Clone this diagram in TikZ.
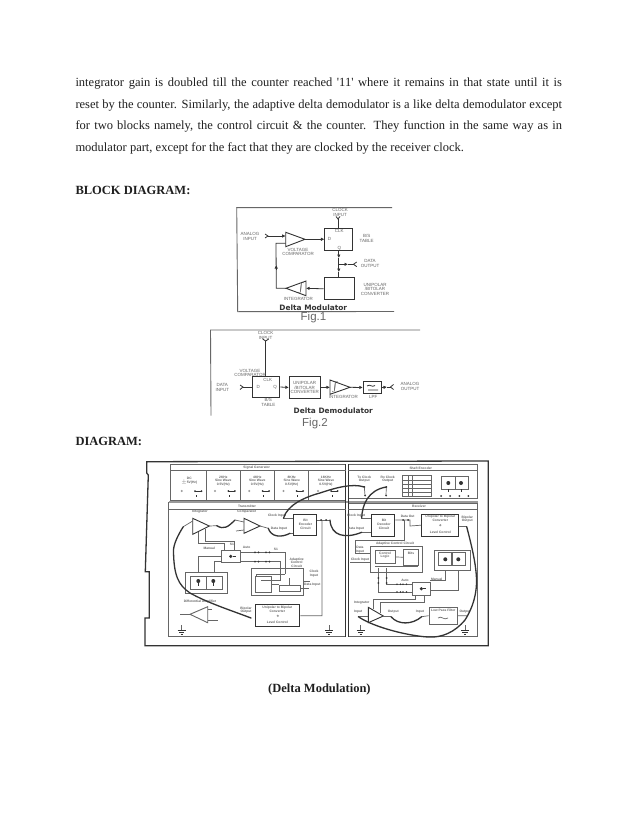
\documentclass[tikz,border=0pt]{standalone}
\usepackage{fontspec}
\setmainfont{Liberation Serif}
\newfontfamily\lsans{Liberation Sans}
\newfontfamily\dsans{DejaVu Sans}
\usetikzlibrary{arrows.meta}
\definecolor{ink}{gray}{0.2}
\definecolor{mid}{gray}{0.4}
\definecolor{soft}{gray}{0.6}
\tikzset{
 x=1pt,y=-1pt,
 para/.style={anchor=base west,inner sep=0,text=black!88,font=\fontsize{12.5}{14}\selectfont},
 head/.style={anchor=base west,inner sep=0,text=black!88,font=\fontsize{12.5}{14}\selectfont\bfseries},
 tiny/.style={inner sep=0,align=center,text=mid,font=\lsans\fontsize{4.5}{4.7}\selectfont},
 micro/.style={inner sep=0,align=center,text=mid,font=\lsans\bfseries\fontsize{3.3}{3.7}\selectfont},
 capt/.style={inner sep=0,text=ink,font=\dsans\bfseries\fontsize{7.4}{8}\selectfont},
 figlab/.style={inner sep=0,text=mid,font=\lsans\fontsize{11.5}{12}\selectfont},
 wire/.style={draw=ink,line width=.8pt},
 fwire/.style={draw=mid,line width=.7pt},
 arr/.style={draw=ink,line width=.8pt,-{Latex[length=3.5pt,width=3.5pt]}},
 bx/.style={draw=ink,line width=1pt,fill=white,inner sep=0,align=center},
 fb/.style={draw=mid,line width=.8pt,fill=white,inner sep=0,align=center},
 tri/.style={fill=white,draw=ink,line width=.9pt},
 panel/.style={draw=mid,line width=.9pt},
 jump/.style={draw=ink,line width=1.3pt,line cap=round},
 lamp/.style={fill=ink,circle,inner sep=0,minimum size=4pt},
}
\begin{document}
\begin{tikzpicture}
\useasboundingbox (0,0) rectangle (638,826);
\fill[white] (0,0) rectangle (638,826);
% page text
\node[para] (l1) at (75.3,87) {\makebox[486.5pt][s]{integrator gain is doubled till the counter reached \textquotesingle 11\textquotesingle\ where it remains in that state until it is}};
\node[para] (l2) at (75.3,108.5) {\makebox[486.5pt][s]{reset by the counter. Similarly, the adaptive delta demodulator is a like delta demodulator except}};
\node[para] (l3) at (75.3,130) {\makebox[486.5pt][s]{for two blocks namely, the control circuit \& the counter. They function in the same way as in}};
\node[para] (l4) at (75.3,151.5) {modulator part, except for the fact that they are clocked by the receiver clock.};
\node[head] (h1) at (75.3,194.5) {BLOCK DIAGRAM:};
\node[head] (h2) at (75.3,445) {DIAGRAM:};
\node[head] (h3) at (268,692) {(Delta Modulation)};
% ---------- Fig 1
\draw[draw=mid,line width=.9pt] (392,207.7) -- (236.7,207.7) -- (237.7,311.7) -- (394,311.5);
\node[tiny] (clk1) at (340,212.7) {CLOCK\\INPUT};
\node[tiny] (ai1) at (250,236.7) {ANALOG\\INPUT};
\node[bx,minimum width=27.7pt,minimum height=22.4pt] (ff1) at (338.8,239.5) {};
\node[tiny] (ff1c) at (339.3,231) {CLK};
\node[tiny] (ff1d) at (329.5,239.3) {D};
\node[tiny] (ff1q) at (339.3,248) {Q};
\node[tiny] (bs1) at (366.7,238.3) {B/S\\TABLE};
\node[tiny] (vc1) at (298,252) {VOLTAGE\\COMPARATOR};
\draw[tri] (285.7,232.3) -- (305,239.3) -- (285.7,246.7) -- cycle;
\coordinate (cmpin) at (285.7,236); \coordinate (cmpb) at (285.7,243.3); \coordinate (cmpo) at (305,239.3);
\coordinate (ai1f) at (268,236);
\draw[arr] (ai1f) -- (cmpin);
\draw[wire] (265,234) -- (ai1f) -- (265,238);
\draw[arr] (cmpo) -- (ff1.west |- cmpo);
\coordinate (clk1f) at (338,219);
\draw[wire] (clk1f) -- (clk1f |- ff1.north);
\draw[wire] (336,216.5) -- (clk1f) -- (340,216.5);
\node[bx,minimum width=30.3pt,minimum height=22.3pt] (conv1) at (339.2,288.8) {};
\node[tiny] (un1) at (375,289.3) {UNIPOLAR\\/BITOLAR\\CONVERTER};
\coordinate (j1) at (338.8,264.3);
\draw[arr] (ff1.south) -- (338.8,258);
\draw[wire] (338.8,258) -- (j1);
\draw[arr] (j1) -- (338.8,272);
\draw[wire] (338.8,272) -- (conv1.north -| j1);
\coordinate (do1) at (353.5,264.3);
\draw[arr] (j1) -- (348,264.3);
\draw[wire] (348,264.3) -- (do1);
\draw[wire] (356.7,262) -- (do1) -- (356.7,266.6);
\node[tiny] (do1t) at (370,263.3) {DATA\\OUTPUT};
\draw[tri] (306,281) -- (306,295.7) -- (286,288.3) -- cycle;
\coordinate (intin) at (306,288.3); \coordinate (into) at (286,288.3);
\node[inner sep=0,text=ink,font=\fontsize{5}{5}\selectfont] (intg1) at (301,288.3) {$\int$};
\node[tiny] (in1) at (298.3,299.3) {INTEGRATOR};
\draw[arr] (conv1.west) -- (intin);
\coordinate (fbk1) at (276.3,288.3); \coordinate (fbk2) at (276,243.3);
\draw[wire] (into) -- (fbk1) -- (fbk2) -- (cmpb);
\draw[arr] (276.2,270) -- (276.2,265);
\node[capt] (cap1) at (313.3,307.3) {Delta Modulator};
\node[figlab] (fg1) at (313.5,318) {Fig.1};
% ---------- Fig 2
\draw[draw=mid,line width=.9pt] (420,330) -- (210.5,330) -- (211,415.7);
\node[tiny] (clk2) at (265.7,335.7) {CLOCK\\INPUT};
\node[bx,minimum width=27.7pt,minimum height=21pt] (ff2) at (266,387) {};
\node[tiny] (ff2c) at (267.7,379.5) {CLK};
\node[tiny] (ff2d) at (258.3,387.3) {D};
\node[tiny] (ff2q) at (275,387.3) {Q};
\coordinate (clk2f) at (265.7,341);
\draw[wire] (clk2f) -- (clk2f |- ff2.north);
\draw[wire] (262.7,339) -- (clk2f) -- (268.7,339);
\node[tiny] (vc2) at (250,373) {VOLTAGE\\COMPARATOR};
\node[tiny] (bs2) at (268.3,402.5) {B/S\\TABLE};
\node[tiny] (di2) at (222.3,387.7) {DATA\\INPUT};
\coordinate (di2f) at (243,387);
\draw[wire] (240,385) -- (di2f) -- (240,389.5);
\draw[wire] (di2f) -- (ff2.west);
\node[bx,minimum width=30.7pt,minimum height=21.7pt] (conv2) at (304.7,387.5) {};
\node[tiny] (un2) at (304.7,387.5) {UNIPOLAR\\/BITOLAR\\CONVERTER};
\draw[arr] (ff2.east) -- (conv2.west);
\draw[tri] (330,380) -- (330,394.3) -- (350,387.3) -- cycle;
\coordinate (i2in) at (330,387.3); \coordinate (i2o) at (350,387.3);
\node[inner sep=0,text=ink,font=\fontsize{5}{5}\selectfont] (intg2) at (335,387.3) {$\int$};
\node[tiny] (in2) at (343.3,396.5) {INTEGRATOR};
\draw[arr] (conv2.east) -- (i2in);
\node[bx,minimum width=18.4pt,minimum height=11.6pt] (lpf) at (372.5,387.5) {};
\draw[wire] (367,386) .. controls (370,383.5) and (372,388) .. (375,385.5) (368,390) -- (378,390);
\node[tiny] (lpft) at (373.3,397) {LPF};
\draw[arr] (i2o) -- (lpf.west);
\coordinate (ao2f) at (390.5,387);
\draw[arr] (lpf.east) -- (387,387);
\draw[wire] (387,387) -- (ao2f);
\draw[wire] (393.5,384.5) -- (ao2f) -- (393.5,389.5);
\node[tiny] (ao2) at (410,386.7) {ANALOG\\OUTPUT};
\node[capt] (cap2) at (333.3,411) {Delta Demodulator};
\node[figlab] (fg2) at (315,424) {Fig.2};
% ---------- Trainer frame and panels
\draw[draw=ink,line width=1.3pt] (146.7,461.7) -- (488.3,461) -- (488.3,645.7) -- (145,645.7) -- (145,618) -- (149.3,618) -- (149.3,571.7) -- (145.3,571.7) -- (148.3,475) -- (146.7,473) -- cycle;
\draw[panel] (170,464.3) rectangle (345.7,500.7);
\draw[panel] (348.3,464.3) rectangle (477.7,498.5);
\draw[panel] (168.5,502.3) rectangle (345.7,636.5);
\draw[panel] (348.3,503.3) rectangle (477.7,636.5);
\fill[soft] (168.5,500.7) rectangle (477.7,503);
\draw[draw=ink,line width=.9pt] (345.7,464) -- (345.7,637) (348.3,464) -- (348.3,637);
\draw[draw=mid,line width=.7pt] (170,470.7) -- (345.7,470.7) (348.3,470.7) -- (477.7,470.7);
\draw[draw=mid,line width=.7pt] (168.5,509.3) -- (345.7,509.3) (348.3,509.3) -- (477.7,509.3);
\node[micro] (t1) at (256.7,468) {Signal Generator};
\node[micro] (t2) at (420.7,468) {Shaft Encoder};
\node[micro] (t3) at (247,506) {Transmitter};
\node[micro] (t4) at (419,506) {Receiver};
\foreach \xa in {206.7,240,274,308.3}{\draw[draw=mid,line width=.7pt] (\xa,470.7) -- (\xa,500.7);}
\foreach \cx/\sx/\dx/\t in {189.3/181.7/195/{DC\\$\pm$5V(Hz)},223.3/215/228.3/{2KHz\\Sine Wave\\0.5V(Hz)},257.3/249.3/262.7/{4KHz\\Sine Wave\\0.5V(Hz)},291.7/283.5/296.5/{8KHz\\Sine Wave\\0.5V(Hz)},326/318/331/{16KHz\\Sine Wave\\0.5V(Hz)}}{
 \node[micro] at (\cx,481) {\t};
 \fill[soft] (\sx,491) circle (1.1pt);
 \fill[ink] (\dx,491) circle (1pt) (\dx+6.5,491) circle (1pt);
 \draw[ink,line width=.5pt] (\dx,491) -- (\dx+6.5,491) (\dx+1,495) -- (\dx+1,497);
}
\node[micro] (tck) at (364.3,479) {Tx Clock\\Output};
\node[micro] (rck) at (387.7,479) {Rx Clock\\Output};
\coordinate (tckp) at (364.3,487); \coordinate (rckp) at (386.3,487);
\fill[ink] (tckp) circle (1pt) (rckp) circle (1pt) (365,495.5) circle (1pt) (386,495.5) circle (1pt);
\draw[fwire] (tckp) -- (365,495.5) (rckp) -- (386,495.5);
\node[fb,minimum width=29.4pt,minimum height=21pt] (tab) at (417,486.2) {};
\draw[draw=mid,line width=.5pt] (408.3,475.7) -- (408.3,496.7) (412.3,475.7) -- (412.3,496.7) (402.3,480) -- (431.7,480) (402.3,484.2) -- (431.7,484.2) (402.3,488.4) -- (431.7,488.4) (402.3,492.6) -- (431.7,492.6);
\node[fb,minimum width=14pt,minimum height=12.3pt] (sw1) at (448,482.8) {};
\node[fb,minimum width=13.3pt,minimum height=12.3pt] (sw2) at (461.6,482.8) {};
\node[lamp] (sl1) at (448.3,483) {}; \node[lamp] (sl2) at (461,483) {};
\draw[ink,line width=.6pt] (448.3,489) -- (448.3,492) (461,489) -- (461,492);
\fill[ink] (441,496) circle (1pt) (450,496) circle (1pt) (459.3,496) circle (1pt) (468.3,496) circle (1pt);
% ---------- transmitter
\node[micro] (ti) at (200,511.7) {Integrator};
\node[micro] (tc) at (246.7,511.7) {Comparator};
\draw[tri] (192.7,518.3) -- (192.7,534.3) -- (209.3,526) -- cycle;
\coordinate (tint) at (183.3,526.7); \coordinate (tinto) at (216.7,525.7);
\draw[tri] (244,518.3) -- (244,533.3) -- (260,526) -- cycle;
\coordinate (tcmp) at (235,520); \coordinate (tcmpo) at (268.3,528.3);
\draw[fwire] (209.3,526) -- (tinto) (260,526) -- (tcmpo) (tint) -- (192.7,521) (tcmp) -- (244,522) (236,531) -- (244,530);
\node[bx,minimum width=23.4pt,minimum height=21.7pt] (tff) at (305,525) {};
\node[micro] (tfft) at (305.5,524.5) {Bit\\Encoder\\Circuit};
\node[micro] (tci) at (277,516) {Clock Input};
\node[micro] (tdi) at (279,528.3) {Data Input};
\coordinate (tfc) at (283.5,518.3); \coordinate (tfd) at (290,533.3);
\draw[fwire] (tfc) -- (tff.west |- tfc) (tfd) -- (tff.west |- tfd);
\draw[jump] (tinto) .. controls (224,530) and (228,527) .. (tcmp);
\draw[jump] (tcmpo) .. controls (271,537) and (281,538) .. (tfd);
\draw[jump] (tfc) .. controls (287,505) and (305,497) .. (320,493) .. controls (335,488) and (352,483) .. (tckp);
% feedback of integrator
\draw[fwire] (198.3,532) -- (198.3,543) -- (224,543) -- (224,550);
\draw[fwire] (205,529) -- (205,541) -- (234,541) -- (234,550);
\node[fb,minimum width=18.3pt,minimum height=12.7pt] (tsw) at (230.8,556.3) {};
\node[lamp,minimum size=3.5pt] (tswl) at (230.8,556.3) {};
\draw[ink,line width=.8pt] (tswl) -- ++(5,0);
\draw[fwire] (tsw.west) ++(0,0) -- (198.3,556.3) -- (198.3,572.7);
\draw[fwire] (221.7,561) -- (214,561) -- (214,572.7);
\draw[fwire] (240,552.3) -- (285,552.3) -- (285,574);
\draw[fwire] (240,561.5) -- (280,561.5) -- (280,574);
\foreach \dx in {255,258.5,266,269.5}{\fill[ink] (\dx,552.3) circle (1pt) (\dx,561.5) circle (1pt);}
\node[micro] (tman) at (209.3,548.3) {Manual};
\node[micro] (taut) at (246.7,547.7) {Auto};
\node[micro] (ts1) at (232,544.5) {S1};
\node[micro] (ts2) at (276,549) {S1};
% tx lamps
\draw[panel] (185,572.7) rectangle (227.3,593.3);
\node[fb,minimum width=16pt,minimum height=13.3pt] (lamp1) at (198,582.7) {};
\node[fb,minimum width=16pt,minimum height=13.3pt] (lamp2) at (214.7,582.7) {};
\node[lamp] (ll1) at (198.3,581) {}; \node[lamp] (ll2) at (213.3,581) {};
\draw[ink,line width=.6pt] (ll1) -- ++(0,5) (ll2) -- ++(0,5);
% adaptive control circuit
\draw[panel] (251,568.3) rectangle (303.3,595);
\node[fb,minimum width=16.7pt,minimum height=16.7pt] (tcl) at (263.4,584.3) {};
\node[fb,minimum width=20.7pt,minimum height=6.7pt] (logic) at (289.7,588.3) {};
\node[micro] (tact) at (296.7,562.7) {Adaptive\\Control\\Circuit};
\node[micro] (tck2) at (314,573.3) {Clock\\Input};
\node[micro] (tdi2) at (312.3,585) {Data Input};
\draw[fwire] (256.5,574) -- (285,574) (256.5,574) -- (256.5,576) (261,580) -- (280,580) -- (280,574);
\draw[fwire] (tcl.east) -- (logic.west |- tcl.east);
\draw[fwire] (289.7,578) -- (logic.north);
\draw[fwire] (303.3,581) -- (310,581) (300,588) -- (309,588);
% differential amp
\node[micro] (da) at (200,601.7) {Differential Amplifier};
\draw[tri,draw=mid] (207.7,606.7) -- (207.7,622.7) -- (190,614.3) -- cycle;
\draw[fwire] (180,614.3) -- (190,614.3) (207.7,609.3) -- (211.7,609.3) (207.7,620) -- (218.3,620);
\node[bx,minimum width=44.3pt,minimum height=21.7pt] (tconv) at (277.8,615.8) {};
\node[micro] (tcv1) at (277.3,609.5) {Unipolar to Bipolar\\Converter};
\node[micro] (tcv2) at (277.3,622.5) {Level Control};
\fill[soft] (tconv.center) circle (1.2pt);
\node[micro] (tbo) at (246,610) {Bipolar\\Output};
\coordinate (tout) at (322,615.7); \coordinate (tq) at (322,520); 
\draw[fwire] (tconv.east) -- (tout) -- (tq);
\draw[fwire] (tff.east |- tq) -- (330,520);
\fill[ink] (321,520) circle (1pt) (326,520) circle (1pt);
\draw[jump] (tint) .. controls (178,535) and (173,545) .. (173.5,552) .. controls (174,575) and (178,585) .. (190,593) .. controls (208,603) and (230,610) .. (251,618);
% grounds
\foreach \gx in {181.7,329,360.7,465}{
 \draw[fwire] (\gx,625) -- (\gx,630);
 \draw[ink,line width=.6pt] (\gx-4,630) -- (\gx+4,630) (\gx-2.7,632) -- (\gx+2.7,632) (\gx-1,634) -- (\gx+1,634);
}
% ---------- receiver
\node[bx,minimum width=23.3pt,minimum height=21.7pt] (rff) at (383.3,525.2) {};
\node[micro] (rfft) at (384,524.5) {Bit\\Decoder\\Circuit};
\node[micro] (rci) at (356,516) {Clock Input};
\node[micro] (rdi) at (356,528.3) {Data Input};
\node[micro] (rdo) at (407.7,516) {Data Out};
\node[bx,minimum width=37.3pt,minimum height=21.7pt] (rconv) at (440.3,525.2) {};
\node[micro] (rcv1) at (440.3,518.5) {Unipolar to Bipolar\\Converter};
\node[micro] (rcv2) at (440.3,532) {Level Control};
\fill[soft] (rconv.center) circle (1.2pt);
\node[micro] (rbo) at (467.3,519) {Bipolar\\Output};
\coordinate (rfc) at (361.7,518.3); \coordinate (rfd) at (361.7,532.3);
\draw[fwire] (rfc) -- (rff.west |- rfc) (rfd) -- (rff.west |- rfd);
\draw[jump] (rfc) .. controls (362,505) and (368,490) .. (rckp);
\draw[jump] (330,520) .. controls (331,536) and (345,539) .. (rfd);
\coordinate (rdt) at (404.3,520);
\draw[fwire] (rff.east |- rdt) -- (410,520) -- (410,526) -- (rconv.west);
\fill[ink] (403,520) circle (1pt) (408,520) circle (1pt);
\draw[fwire] (rdt) -- (404.3,540) -- (355,540) -- (355,553) -- (370,553);
\draw[panel] (370,546.7) rectangle (422.7,572.7);
\node[micro] (ract) at (395,543.3) {Adaptive Control Circuit};
\node[fb,minimum width=20pt,minimum height=12.6pt] (rcl) at (385,557) {};
\node[micro] (rclt) at (385,555) {Control\\Logic};
\node[fb,minimum width=15pt,minimum height=15.7pt] (rcn) at (410.8,557.2) {};
\node[micro] (rcnt) at (411,553) {Bits};
\node[micro] (rdit) at (360,549.5) {Data\\Input};
\node[micro] (rcit) at (360,559.5) {Clock Input};
\draw[fwire] (rcl.east) -- (rcn.west);
\draw[fwire] (350,562) -- (370,562) (375,566.5) -- (418,566.5);
\draw[panel] (434.3,550) rectangle (470,570);
\node[fb,minimum width=13.4pt,minimum height=12.3pt] (rs1) at (445,558.8) {};
\node[fb,minimum width=12.3pt,minimum height=12.3pt] (rs2) at (458.8,558.8) {};
\node[lamp] (rl1) at (445.3,559.3) {}; \node[lamp] (rl2) at (458.3,559.3) {};
\node[fb,minimum width=18pt,minimum height=12.3pt] (rsw) at (421.3,588.8) {};
\node[lamp,minimum size=3.5pt] (rswl) at (421.3,588.8) {};
\draw[ink,line width=.8pt] (rswl) -- ++(5,0);
\draw[fwire] (445.3,570) -- (445.3,580.7) -- (430.3,580.7) (458.3,570) -- (458.3,590) -- (430.3,590);
\node[micro] (rman) at (436.7,579) {Manual};
\node[micro] (raut) at (405,580) {Auto};
\draw[fwire] (412.3,584.3) -- (386.7,584.3) -- (386.7,568) (412.3,592) -- (378.3,592) -- (378.3,568);
\foreach \dx in {397,400.5,403,406.5}{\fill[ink] (\dx,584.3) circle (.9pt) (\dx,592) circle (.9pt);}
\fill[ink] (378.3,578) circle (1pt) (386.7,578) circle (1pt) (378.3,583) circle (1pt) (386.7,583) circle (1pt);
\draw[fwire] (424.3,595) -- (424.3,602.3) -- (380,602.3) -- (380,613);
\draw[fwire] (415,595) -- (415,599) -- (373.3,599) -- (373.3,609);
\node[micro] (rint) at (361.7,602.3) {Integrator};
\draw[tri] (368.3,607.3) -- (368.3,622.7) -- (383.3,616) -- cycle;
\coordinate (rtin) at (358.3,616.7); \coordinate (rtout) at (391,616.7);
\draw[fwire] (rtin) -- (368.3,616.7) (383.3,616.7) -- (rtout);
\node[micro] (rii) at (358.3,611.7) {Input};
\node[micro] (rou) at (393.3,611.7) {Output};
\node[micro] (rli) at (420,611.7) {Input};
\coordinate (rlin) at (421.7,616.7);
\draw[jump] (rtout) .. controls (398,625) and (412,625) .. (rlin);
\node[fb,minimum width=28.7pt,minimum height=16.7pt] (rlpf) at (443.3,615.7) {};
\node[micro] (rlpt) at (443.3,610.5) {Low Pass Filter};
\draw[fwire] (438,618) .. controls (441,615) and (444,621) .. (448,618);
\node[micro] (rlo) at (465,611.7) {Output};
\draw[fwire] (rlin) -- (rlpf.west) (rlpf.east) -- (468,615.7);
\coordinate (rbop) at (466.7,526.7);
\draw[fwire] (rconv.east |- rbop) -- (rbop);
\draw[jump] (rbop) .. controls (470,540) and (477,565) .. (476.5,583) .. controls (476,600) and (470,612) .. (465,620) .. controls (455,632) and (442,638) .. (428,637) .. controls (410,636) and (375,628) .. (rtin);
\end{tikzpicture}
\end{document}
